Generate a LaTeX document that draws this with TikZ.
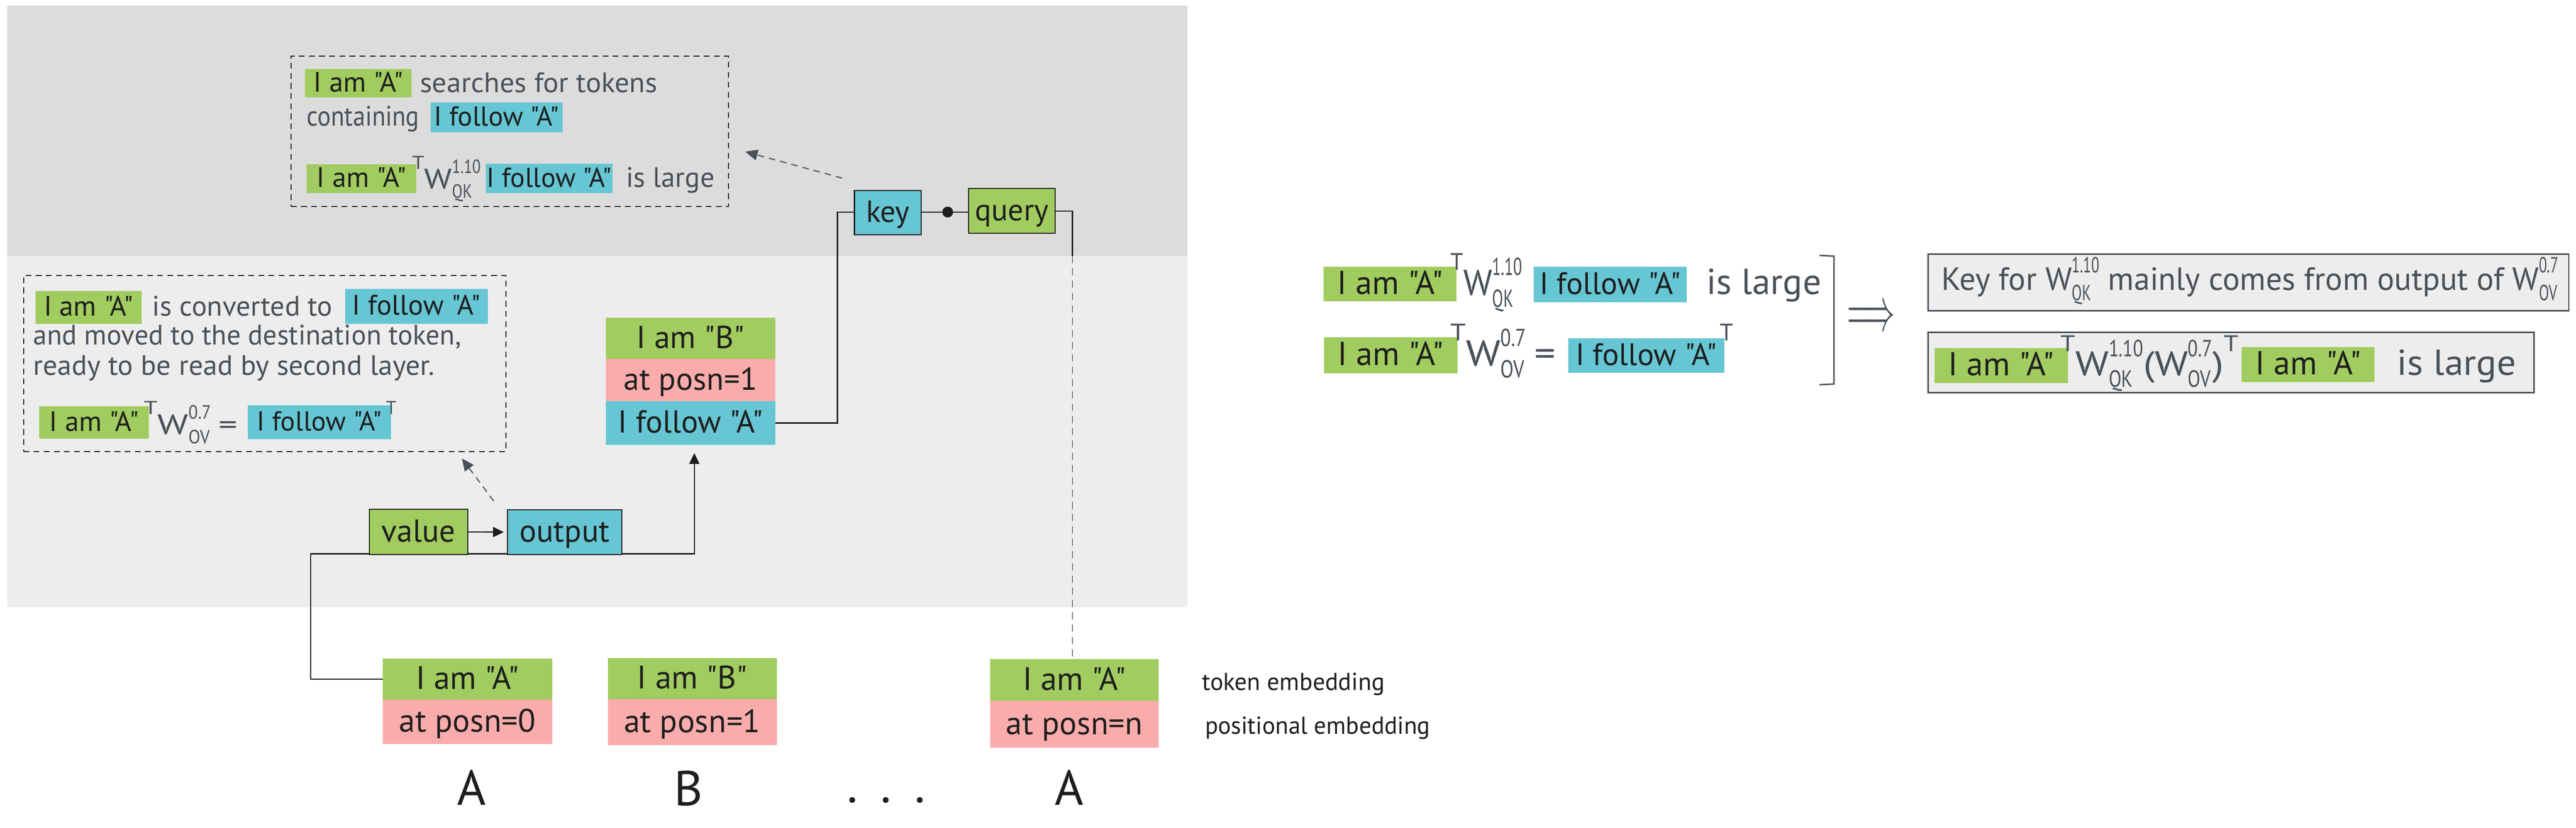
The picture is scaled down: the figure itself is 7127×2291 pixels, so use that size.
\documentclass[tikz,border=0pt]{standalone}
\usepackage{graphicx}
\usepackage{fontspec}
\setmainfont{PT Sans}[Ligatures=TeXOff]
\newfontfamily\cnd{PT Sans}[FakeStretch=0.68]
\usetikzlibrary{arrows.meta}
\definecolor{cgreen}{HTML}{A1CC5F}
\definecolor{ccyan}{HTML}{66C6D4}
\definecolor{cpink}{HTML}{F9ACAB}
\definecolor{bandA}{HTML}{DCDCDC}
\definecolor{bandB}{HTML}{EDEDED}
\definecolor{tgray}{HTML}{495057}
\definecolor{ink}{HTML}{1E1E1E}
\newcommand\fsz[1]{\fontsize{#1pt}{#1pt}\selectfont}
\newcommand\fitw[2]{\resizebox{#1pt}{\height}{#2}}
\newcommand\Tt{\raisebox{0.7em}{\scalebox{0.66}{T}}}
\newcommand\Wsb[2]{W\begingroup\setbox0\hbox{\cnd\scalebox{0.68}{#1}}\setbox2\hbox{\cnd\scalebox{0.68}{#2}}\dimen0=\ifdim\wd0>\wd2 \wd0\else\wd2\fi\raisebox{0.55em}{\makebox[0pt][l]{\box0}}\raisebox{-0.33em}{\makebox[\dimen0][l]{\box2}}\endgroup}
\newcommand\bx[7]{\node[#1, minimum width={#4-#2}, minimum height={#5-#3}] (#7) at ({(#2+#4)/2},{(#3+#5)/2}) {#6};}
\tikzset{
  cell/.style={inner sep=0pt, outer sep=0pt, font=\fsz{#1}, text height={0.62*#1}, text depth=0pt, text=ink},
  gbox/.style={cell=#1, fill=cgreen},
  cbox/.style={cell=#1, fill=ccyan},
  pbox/.style={cell=#1, fill=cpink},
  blk/.style={cell=#1, draw=ink, line width=3pt},
  note/.style={inner sep=0pt, outer sep=0pt, text=tgray, anchor=base west, font=\fsz{#1}},
  lbl/.style={inner sep=0pt, outer sep=0pt, text=ink, font=\fsz{#1}},
  dashbox/.style={inner sep=0pt, draw=ink, line width=3pt, dash pattern=on 16pt off 12pt},
  rbox/.style={inner sep=0pt, draw=tgray, line width=4pt, fill=bandB},
  wire/.style={draw=ink, line width=3pt},
  harrow/.style={-{Triangle[length=30pt,width=28pt]}},
  hint/.style={draw=tgray, line width=3pt, dash pattern=on 18pt off 14pt, -{Triangle[length=34pt,width=30pt]}},
}
\begin{document}
\begin{tikzpicture}[x=1pt,y=-1pt]
\useasboundingbox (0,0) rectangle (7127,2291);
% background bands
\fill[bandA] (20,16) rectangle (3286,709);
\fill[bandB] (20,709) rectangle (3286,1680);

% upper note
\bx{dashbox}{805}{156}{2016}{572}{}{ub}
\bx{gbox=78}{844}{191}{1139}{270}{I am "A"}{ug1}
\node[note=78] (ut1) at (1162,256) {\fitw{657}{searches for tokens}};
\node[note=78] (ut2) at (849,348) {\fitw{311}{containing}};
\bx{cbox=76}{1191}{284}{1557}{367}{I follow "A"}{uc1}
\bx{gbox=78}{848}{454}{1152}{534}{I am "A"}{ug2}
\node[note=78] (ut3) at (1140,523) {\fitw{190}{\Tt\Wsb{1.10}{QK}}};
\bx{cbox=76}{1344}{453}{1695}{535}{I follow "A"}{uc2}
\node[note=78] (ut4) at (1732,518) {\fitw{245}{is large}};

% lower note
\bx{dashbox}{65}{762}{1400}{1250}{}{lnote}
\bx{gbox=78}{99}{805}{392}{896}{I am "A"}{lg1}
\node[note=78] (lt1) at (421,875) {\fitw{499}{is converted to}};
\bx{cbox=78}{955}{799}{1350}{897}{I follow "A"}{lc1}
\node[note=78] (lt2) at (92,954) {\fitw{1184}{and moved to the destination token,}};
\node[note=78] (lt3) at (92,1038) {\fitw{1110}{ready to be read by second layer.}};
\bx{gbox=78}{108}{1125}{412}{1215}{I am "A"}{lg2}
\node[note=78] (lt4) at (398,1202) {\fitw{259}{\Tt\Wsb{0.7}{OV}\hspace{0.2em}=}};
\bx{cbox=76}{686}{1122}{1082}{1216}{I follow "A"}{lc2}
\node[note=78] (lt5) at (1068,1202) {\Tt};

% stack of second position
\bx{gbox=88}{1676}{880}{2145}{994}{I am "B"}{sg}
\bx{pbox=88}{1676}{994}{2145}{1110}{at posn=1}{sp}
\bx{cbox=88}{1676}{1110}{2145}{1232}{I follow "A"}{sf}

% key / query
\bx{blk=85,fill=ccyan}{2364}{527}{2549}{650}{key}{key}
\bx{blk=85,fill=cgreen}{2680}{522}{2919}{646}{query}{query}
\node[circle, fill=ink, inner sep=0pt, minimum size=30pt] (dot) at (2622,587) {};
\draw[wire] (key.east |- dot) -- (dot) -- (query.west |- dot);
\coordinate (kturn) at (2317,587);
\draw[wire] (sf.east) -| (kturn) -- (key.west |- dot);

% tokens
\bx{gbox=90}{1059}{1823}{1528}{1937}{I am "A"}{t0g}
\bx{pbox=90}{1059}{1937}{1528}{2059}{at posn=0}{t0p}
\bx{gbox=90}{1682}{1822}{2149}{1936}{I am "B"}{t1g}
\bx{pbox=90}{1682}{1936}{2149}{2062}{at posn=1}{t1p}
\bx{gbox=90}{2739}{1825}{3206}{1940}{I am "A"}{tng}
\bx{pbox=90}{2739}{1940}{3206}{2070}{at posn=n}{tnp}

\coordinate (qturn) at (2967,709);
\draw[wire] (query.east) -| (qturn);
\draw[wire, line width=2.5pt, dash pattern=on 20pt off 14pt] (qturn) -- (qturn |- tng.north);

% value / output
\coordinate (vturn) at (860,1533);
\coordinate (otop) at (1921,1254);
\draw[wire, harrow] (t0g.west) -| (vturn) -| (otop);
\bx{blk=88,fill=cgreen}{1022}{1410}{1294}{1535}{value}{val}
\bx{blk=88,fill=ccyan}{1404}{1411}{1720}{1535}{output}{out}
\draw[wire, harrow, shorten >=10pt] (val.east) -- (out.west);

% hint arrows
\coordinate (h1s) at (2330,493);
\coordinate (h1e) at (2062,420);
\draw[hint] (h1s) -- (h1e);
\coordinate (h2s) at (1366,1387);
\coordinate (h2e) at (1278,1269);
\draw[hint] (h2s) -- (h2e);

% labels
\node[lbl=68, anchor=base west] (lte) at (3326,1911) {\fitw{505}{token embedding}};
\node[lbl=68, anchor=base west] (lpe) at (3334,2032) {\fitw{623}{positional embedding}};
\node[lbl=136, anchor=base] (la) at (1305,2228) {A};
\node[lbl=136, anchor=base] (lbb) at (1905,2230) {B};
\node[lbl=136, anchor=base] (ldots) at (2452,2222) {\makebox[215pt]{.\hfill.\hfill.}};
\node[lbl=136, anchor=base] (la2) at (2958,2228) {A};

% right side equations
\bx{gbox=92}{3662}{738}{4030}{834}{I am "A"}{rg1}
\node[note=100] (rt1) at (4013,817) {\fitw{199}{\Tt\Wsb{1.10}{QK}}};
\bx{cbox=86}{4243}{739}{4667}{836}{I follow "A"}{rc1}
\node[note=100] (rt2) at (4722,815) {\fitw{317}{is large}};
\bx{gbox=92}{3663}{934}{4032}{1033}{I am "A"}{rg2}
\node[note=100] (rt3) at (4013,1013) {\fitw{291}{\Tt\Wsb{0.7}{OV}\hspace{0.2em}=}};
\bx{cbox=86}{4339}{936}{4771}{1032}{I follow "A"}{rc2}
\node[note=100] (rt4) at (4758,1013) {\Tt};
\draw[tgray, line width=4pt] (5034,707) -- (5074,709) -- (5074,1063) -- (5034,1065);
\node[inner sep=0pt, text=tgray] (imp) at (5176,884) {\resizebox{132pt}{62pt}{$\Longrightarrow$}};

% right boxes
\bx{rbox}{5335}{703}{7107}{860}{}{rb1}
\node[note=89] (rb1t) at (5372,803) {\fitw{1706}{Key for \Wsb{1.10}{QK} mainly comes from output of \Wsb{0.7}{OV}}};
\bx{rbox}{5335}{920}{7011}{1087}{}{rb2}
\bx{gbox=92}{5352}{964}{5721}{1060}{I am "A"}{rg3}
\node[note=95] (rb2t) at (5701,1040) {\fitw{492}{\Tt\Wsb{1.10}{QK}(\Wsb{0.7}{OV})\Tt}};
\bx{gbox=92}{6202}{961}{6570}{1057}{I am "A"}{rg4}
\node[note=100] (rb2s) at (6632,1038) {\fitw{330}{is large}};
\end{tikzpicture}
\end{document}
